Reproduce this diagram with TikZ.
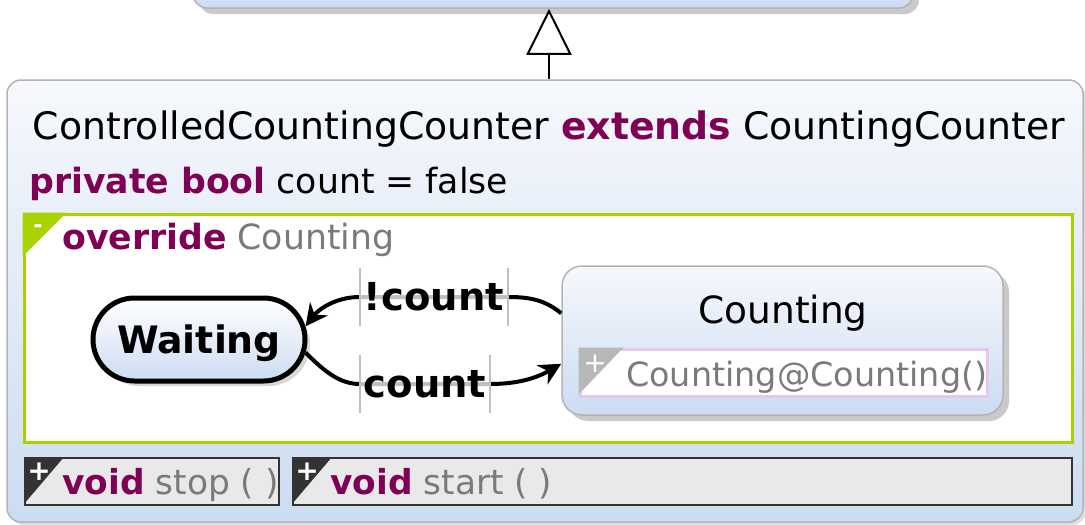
\documentclass[tikz,border=0pt]{standalone}
\usepackage{fontspec}
\setmainfont{DejaVu Sans}
\usetikzlibrary{arrows.meta,shadows,shapes.misc}
\definecolor{kw}{HTML}{7F0055}
\definecolor{greytext}{HTML}{7A7A7A}
\definecolor{regiongreen}{HTML}{A8D300}
\definecolor{boxtop}{HTML}{F6F8FC}
\definecolor{boxbot}{HTML}{CCDCF2}
\definecolor{boxborder}{HTML}{B4B4B4}
\definecolor{pinkline}{HTML}{E4C6EE}
\definecolor{opfill}{HTML}{E8E9E8}
\definecolor{darktri}{HTML}{333333}
\definecolor{greytri}{HTML}{B8B8B8}
\tikzset{
  classbox/.style={draw=boxborder, line width=1.5pt, rounded corners=14pt,
    top color=boxtop, bottom color=boxbot, inner sep=0pt},
  statebox/.style={draw=boxborder, line width=1.5pt, rounded corners=20pt,
    top color=boxtop, bottom color=boxbot, inner sep=0pt,
    drop shadow={shadow xshift=6pt, shadow yshift=-6pt, fill=black!35, opacity=0.6}},
  initstate/.style={rounded rectangle, draw=black, line width=5pt,
    top color=white, bottom color=boxbot, inner sep=0pt, text depth=0pt,
    drop shadow={shadow xshift=5pt, shadow yshift=-5pt, fill=black!30, opacity=0.5}},
  regionbox/.style={draw=regiongreen, line width=3pt, fill=white, inner sep=0pt},
  compbox/.style={draw=pinkline, line width=3pt, fill=white, inner sep=0pt},
  opbox/.style={draw=darktri, line width=2pt, fill=opfill, inner sep=0pt},
  labelframe/.style={inner sep=0pt},
  edgelabel/.style={fill=white, fill opacity=0.75, text opacity=1, inner sep=0pt,
    minimum height=14pt, font=\fontsize{38.5}{42}\selectfont\bfseries},
  sideline/.style={draw=black!25, line width=1.5pt},
  transition/.style={draw=black, line width=4pt,
    -{Stealth[length=22pt,width=22pt,inset=7pt]}},
  txt/.style={inner sep=0pt, anchor=base west},
}
\begin{document}
\begin{tikzpicture}[x=1pt,y=-1pt]
\useasboundingbox (0,0) rectangle (1085,525);
\clip (0,0) rectangle (1085,525);
% parent class (cut off)
\node[classbox, minimum width=720pt, minimum height=68pt,
  drop shadow={shadow xshift=6pt, shadow yshift=-6pt, fill=black!35, opacity=0.6}]
  (parent) at (553,-26) {};
% main class
\node[classbox, minimum width=1076pt, minimum height=442pt,
  drop shadow={shadow xshift=3pt, shadow yshift=-3pt, fill=black!25, opacity=0.5}]
  (main) at (545,301) {};
\draw[line width=2pt, -{Triangle[open,length=46pt,width=45pt,line width=2pt]}]
  (main.north -| 549,0) -- (parent.south -| 549,0);
% title
\node[txt, anchor=base] (title) at (549,139)
  {\fontsize{37.8}{42}\selectfont ControlledCountingCounter {\bfseries\color{kw}extends} CountingCounter};
\node[txt] (attr) at (29,193)
  {\fontsize{34.7}{40}\selectfont{\bfseries\color{kw}private bool} count = false};
% region
\node[regionbox, minimum width=1048pt, minimum height=228pt] (region) at (548,328) {};
\fill[regiongreen] (region.north west) -- ++(44,0) -- ++(-44,44) -- cycle;
\node[inner sep=0pt, text=white, font=\fontsize{22}{24}\selectfont\bfseries] (minus) at (38,229) {-};
\node[txt] (rtitle) at (62,249)
  {\fontsize{34.7}{38}\selectfont{\bfseries\color{kw}override} \color{greytext}Counting};
% states
\node[initstate, minimum width=212pt, minimum height=83pt] (waiting) at (199,339.5)
  {\fontsize{37.8}{42}\selectfont\bfseries Waiting};
\node[statebox, minimum width=441pt, minimum height=149pt] (counting) at (782.5,340.5) {};
\node[txt, anchor=base] (ctitle) at (783,323) {\fontsize{37.5}{42}\selectfont Counting};
\node[compbox, minimum width=407pt, minimum height=47pt] (comp) at (783.5,372.5) {};
\fill[greytri] (comp.north west) -- ++(45,0) -- ++(-45,47) -- cycle;
\node[inner sep=0pt, text=white, font=\fontsize{28}{30}\selectfont] (cplus) at (595,364) {+};
\node[txt] (ctext) at (626,386) {\fontsize{33.4}{36}\selectfont\color{greytext}Counting@Counting()};
% transitions
\node[labelframe, minimum width=148pt, minimum height=58pt] (lbl1) at (434,297) {};
\node[labelframe, minimum width=130pt, minimum height=58pt] (lbl2) at (425,384) {};
\draw[transition] (counting.173) .. controls (545,300) and (530,297) .. (lbl1.east)
  -- (lbl1.west) .. controls (335,297) and (318,310) .. (waiting.7);
\draw[transition] (waiting.-7) .. controls (325,372) and (340,384) .. (lbl2.west)
  -- (lbl2.east) .. controls (522,384) and (540,376) .. (counting.186);
\node[edgelabel, minimum width=146pt] (t1) at (lbl1) {!count};
\node[edgelabel, minimum width=128pt] (t2) at (lbl2) {count};
\draw[sideline] (lbl1.north west) -- (lbl1.south west);
\draw[sideline] (lbl1.north east) -- (lbl1.south east);
\draw[sideline] (lbl2.north west) -- (lbl2.south west);
\draw[sideline] (lbl2.north east) -- (lbl2.south east);
% operations
\node[opbox, minimum width=254pt, minimum height=47pt] (op1) at (152,481.5) {};
\fill[darktri] (op1.north west) -- ++(40,0) -- ++(-40,47) -- cycle;
\node[inner sep=0pt, text=white, font=\fontsize{28}{30}\selectfont\bfseries] (p1) at (39,472) {+};
\node[txt] (op1t) at (62,494)
  {\fontsize{34.4}{38}\selectfont{\bfseries\color{kw}void} \color{greytext}stop ( )};
\node[opbox, minimum width=779pt, minimum height=47pt] (op2) at (682.5,481.5) {};
\fill[darktri] (op2.north west) -- ++(40,0) -- ++(-40,47) -- cycle;
\node[inner sep=0pt, text=white, font=\fontsize{28}{30}\selectfont\bfseries] (p2) at (307,472) {+};
\node[txt] (op2t) at (330,494)
  {\fontsize{34.4}{38}\selectfont{\bfseries\color{kw}void} \color{greytext}start ( )};
\end{tikzpicture}
\end{document}
